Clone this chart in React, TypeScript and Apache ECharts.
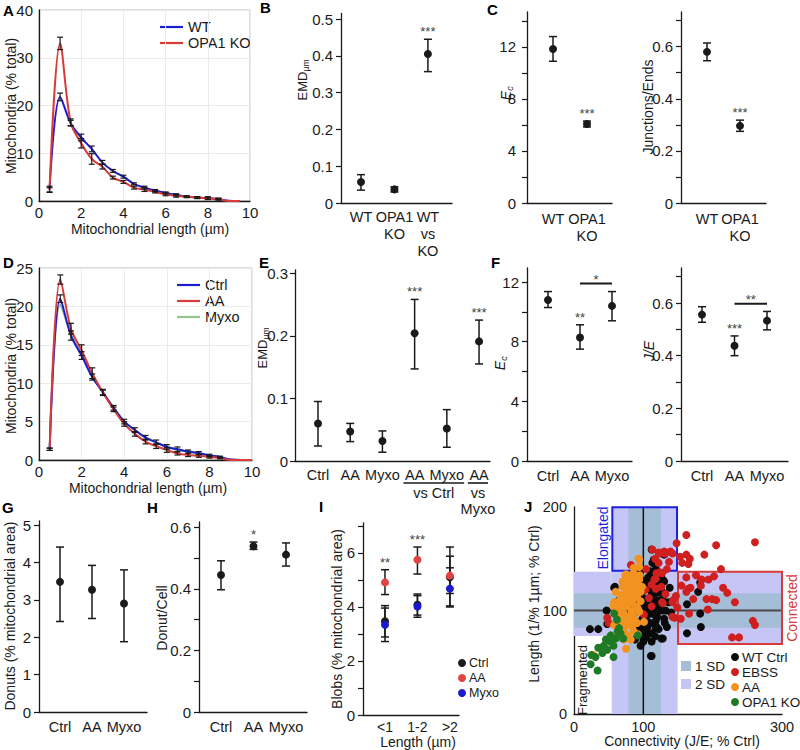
import React, { useEffect, useRef } from "react";
import * as echarts from "echarts";

const FONT = '"Liberation Sans", Arial, Helvetica, sans-serif';
const INK = "#1a1a1a";
const BLUE = "#1c1cd0";
const RED = "#d93a3a";
const GREEN = "#95c28f";
const ORANGE = "#f29320";
const DKGREEN = "#1f7a25";
const LAV = "#c6c6f6";
const STEEL = "#a6bdd8";
const DOTRED = "#e04444";
const DOTBLUE = "#1a1acc";
const TICKFS = 15;

// ---------- Panel A : length distribution WT vs OPA1 KO
const binsA = [0.5, 1, 1.5, 2, 2.5, 3, 3.5, 4, 4.5, 5, 5.5, 6, 6.5, 7, 7.5, 8, 8.5, 9, 9.5];
const wtA = [2.5, 21.8, 16.3, 13.3, 10.9, 8.1, 6.3, 5.1, 3.6, 2.8, 2.2, 1.7, 1.3, 0.9, 0.75, 0.6, 0.4, 0.05, 0];
const wtAErr = [0.6, 0.8, 0.6, 0.7, 0.6, 0.4, 0.3, 0.3, 0.2, 0.3, 0.2, 0.2, 0.2, 0.15, 0.15, 0.2, 0.15];
const koA = [2.3, 33, 16.5, 12.1, 8.8, 7.2, 4.9, 4.0, 2.8, 2.4, 1.9, 1.4, 1.1, 0.9, 0.7, 0.6, 0.4, 0, 0];
const koAErr = [0.5, 1.3, 0.7, 1.0, 1.1, 0.5, 0.3, 0.3, 0.3, 0.4, 0.2, 0.3, 0.3, 0.2, 0.2, 0.3, 0.2];

// ---------- Panel B : EMD
const bCats = ["WT", "OPA1\nKO", "WT\nvs\nKO"];
const bMean = [0.057, 0.037, 0.405];
const bLow = [0.035, 0.030, 0.357];
const bHigh = [0.077, 0.044, 0.445];
const bStars = ["", "", "***"];

// ---------- Panel C : Ec and Junctions/Ends
const cCats = ["WT", "OPA1\nKO"];
const cEcMean = [11.85, 6.08];
const cEcLow = [10.9, 5.85];
const cEcHigh = [12.8, 6.3];
const cEcStars = ["", "***"];
const cJeMean = [0.58, 0.296];
const cJeLow = [0.546, 0.275];
const cJeHigh = [0.614, 0.318];
const cJeStars = ["", "***"];

// ---------- Panel D : length distribution Ctrl / AA / Myxo
const binsD = [0.5, 1, 1.5, 2, 2.5, 3, 3.5, 4, 4.5, 5, 5.5, 6, 6.5, 7, 7.5, 8, 8.5, 9, 9.5, 10];
const ctrlD = [1.4, 21, 16.2, 13.6, 10.8, 8.8, 6.8, 5.0, 3.9, 2.9, 2.3, 1.7, 1.4, 1.1, 0.9, 0.6, 0.4, 0.05, 0, 0];
const ctrlDErr = [0.15, 0.5, 0.6, 0.5, 0.4, 0.3, 0.3, 0.3, 0.3, 0.3, 0.3, 0.3, 0.3, 0.2, 0.2, 0.15, 0.1];
const aaD = [1.4, 23.5, 17.1, 14.3, 11.3, 8.8, 6.6, 4.7, 3.4, 2.4, 1.8, 1.3, 0.85, 0.65, 0.55, 0.4, 0.25, 0, 0, 0];
const aaDErr = [0.15, 0.6, 0.7, 0.7, 0.7, 0.4, 0.3, 0.3, 0.3, 0.3, 0.3, 0.3, 0.2, 0.2, 0.2, 0.15, 0.1];
const myxoD = [1.4, 20.2, 16.4, 13.9, 11.1, 8.8, 6.9, 5.1, 3.9, 3.0, 2.3, 1.7, 1.3, 1.1, 0.8, 0.6, 0.4, 0.05, 0, 0];

// ---------- Panel E : EMD
const eCats = ["Ctrl", "AA", "Myxo", "AA", "Myxo", "AA"];
const eMean = [0.060, 0.047, 0.032, 0.204, 0.052, 0.191];
const eLow = [0.024, 0.031, 0.014, 0.147, 0.022, 0.155];
const eHigh = [0.095, 0.060, 0.048, 0.258, 0.082, 0.225];
const eStars = ["", "", "", "***", "", "***"];
const eGroupFrom = [4, 6];
const eGroupTo = [5, 6];
const eGroupLabels = ["vs Ctrl", "vs\nMyxo"];

// ---------- Panel F : Ec and J/E
const fCats = ["Ctrl", "AA", "Myxo"];
const fEcMean = [10.8, 8.28, 10.4];
const fEcLow = [10.29, 7.5, 9.4];
const fEcHigh = [11.36, 9.13, 11.36];
const fEcStars = ["", "**", ""];
const fEcBracket = [2, 3, 11.9];
const fEcBracketLabel = "*";
const fJeMean = [0.556, 0.438, 0.533];
const fJeLow = [0.527, 0.40, 0.498];
const fJeHigh = [0.586, 0.475, 0.568];
const fJeStars = ["", "***", ""];
const fJeBracket = [2, 3, 0.597];
const fJeBracketLabel = "**";

// ---------- Panel G : Donuts
const gCats = ["Ctrl", "AA", "Myxo"];
const gMean = [3.48, 3.27, 2.9];
const gLow = [2.42, 2.5, 1.88];
const gHigh = [4.41, 3.92, 3.8];

// ---------- Panel H : Donut/Cell
const hMean = [0.445, 0.538, 0.511];
const hLow = [0.397, 0.528, 0.474];
const hHigh = [0.491, 0.552, 0.549];
const hStars = ["", "*", ""];

// ---------- Panel I : Blobs
const iCats = ["<1", "1-2", ">2"];
const iCtrlMean = [3.47, 4.08, 5.1];
const iCtrlLow = [2.89, 3.7, 4.5];
const iCtrlHigh = [4.05, 4.48, 5.88];
const iAAMean = [4.91, 5.75, 5.16];
const iAALow = [4.46, 5.22, 4.04];
const iAAHigh = [5.38, 6.22, 6.22];
const iAAStars = ["**", "***", ""];
const iMyxoMean = [3.34, 4.02, 4.68];
const iMyxoLow = [2.72, 3.62, 4.0];
const iMyxoHigh = [3.96, 4.42, 5.45];

// ---------- Panel J : morphology map
const jSd2Regions = [[54.3, 0, 149.5, 200], [0, 75.4, 54.3, 137.5], [149.5, 67.6, 300, 137.5]];
const jSd1Regions = [[78.4, 0, 125.5, 200], [0, 83.4, 300, 116.6]];
const jElongatedBox = [55.3, 138.5, 148.6, 199.7];
const jConnectedBox = [150, 67.6, 300, 137.5];
const jRefLines = [[100, 0, 100, 200], [0, 100, 300, 100]];

const jWtCtrl = [
  [115, 149], [113, 146], [96, 139], [107, 132], [110, 128], [119, 128], [130, 128], [102, 120], [112, 118], [119, 117],
  [129, 117], [115, 112], [124, 110], [111, 107], [103, 104], [115, 102], [127, 100], [94, 100], [110, 97], [120, 94],
  [99, 92], [91, 89], [106, 88], [99, 83], [91, 84], [103, 80], [118, 83], [112, 70], [126, 73], [112, 56],
  [59, 123], [65, 110], [47, 100], [35, 82], [72, 107], [82, 100], [131, 155], [182, 127], [179, 118], [163, 106],
  [182, 97], [183, 84], [110, 133], [122, 130], [129, 129], [114, 120], [131, 116], [128, 110], [117, 105], [122, 100],
  [131, 88], [119, 84], [117, 75], [128, 73], [58, 122], [23, 82], [48, 87], [112, 159], [130, 154], [111, 56],
  [163, 78], [100, 112], [106, 110], [112, 114], [120, 106], [108, 100], [116, 96], [124, 104], [104, 92], [110, 88],
  [118, 90], [98, 80], [106, 84], [112, 78], [122, 82], [100, 70], [104, 74], [96, 66], [118, 124], [124, 118],
  [108, 122], [102, 128], [110, 138], [118, 140], [126, 132], [96, 124], [132, 100], [136, 108], [130, 92],
  [88, 72], [94, 76], [86, 96], [100, 104], [92, 110], [138, 122], [140, 98], [134, 84],
];
const jEbss = [
  [162, 173], [261, 166], [205, 163], [148, 165], [113, 159], [122, 156], [139, 157], [142, 155], [153, 152], [162, 154],
  [188, 154], [167, 150], [156, 146], [137, 147], [165, 145], [212, 140], [176, 134], [184, 130], [194, 130], [202, 133],
  [162, 132], [155, 124], [165, 121], [168, 122], [183, 124], [215, 122], [221, 117], [162, 118], [172, 111], [191, 111],
  [199, 111], [205, 110], [232, 108], [149, 103], [166, 97], [193, 101], [145, 93], [154, 92], [258, 90], [261, 86],
  [228, 74], [238, 74], [143, 110], [128, 107], [147, 114], [118, 131], [124, 137], [117, 150], [130, 157], [123, 155],
  [131, 155], [82, 144], [119, 136], [127, 136], [112, 125], [103, 120], [118, 121], [126, 123], [132, 116], [142, 108],
  [127, 108], [142, 94], [81, 108], [77, 104], [48, 93], [50, 88], [101, 96], [108, 112], [116, 130], [104, 140],
  [122, 146], [134, 140], [112, 104],
];
const jAA = [
  [94, 149], [86, 141], [94, 142], [75, 135], [90, 133], [79, 128], [94, 130], [70, 123], [82, 123],
  [91, 125], [87, 118], [75, 117], [96, 118], [67, 115], [79, 113], [91, 113], [72, 110], [84, 109], [96, 109],
  [65, 105], [77, 104], [89, 104], [70, 99], [83, 99], [94, 99], [60, 96], [75, 94], [87, 93], [67, 89],
  [79, 89], [91, 88], [58, 86], [72, 84], [84, 84], [65, 81], [77, 76], [60, 75], [72, 72], [75, 63],
  [101, 89], [98, 123], [87, 130], [57, 104], [28, 57], [55, 68], [47, 72], [74, 134],
  [93, 150], [92, 77], [70, 128], [78, 132], [86, 136], [95, 134], [88, 121], [76, 119], [66, 110],
  [82, 116], [90, 116], [70, 104], [80, 106], [92, 102], [64, 100], [72, 96], [84, 96],
  [68, 88], [76, 92], [88, 90], [62, 92], [80, 86], [72, 80], [86, 80],
  [66, 74], [82, 72], [58, 108], [60, 118], [76, 126],
];
const jOpa1 = [
  [58, 97], [62, 91], [65, 83], [63, 80], [53, 76], [67, 78], [60, 73], [46, 72], [52, 70], [43, 66],
  [57, 66], [35, 64], [48, 62], [41, 59], [31, 55], [57, 55], [24, 48], [34, 42], [92, 76], [71, 73], [25, 57],
];

// ---------- helpers
const range = (a: number, b: number, s: number) => {
  const out: number[] = [];
  for (let i = 0; Math.round((a + i * s) * 1000) / 1000 <= b; i++) out.push(Math.round((a + i * s) * 1000) / 1000);
  return out;
};

function yVal(gridIndex: number, max: number, ticks: number[], labels: number[], margin = 8) {
  return {
    type: "value", gridIndex, min: 0, max,
    axisLine: { show: true, onZero: false, lineStyle: { color: INK, width: 1.3 } },
    axisTick: { show: true, length: 5, customValues: ticks, lineStyle: { color: INK, width: 1.2 } },
    axisLabel: { customValues: labels, fontSize: TICKFS, color: INK, margin, fontFamily: FONT },
    splitLine: { show: false },
  };
}
function catX(gridIndex: number, min: number, max: number, labels: string[], margin = 5, fs = 14.5) {
  return {
    type: "value", gridIndex, min, max,
    axisLine: { show: true, onZero: false, lineStyle: { color: INK, width: 1.3 } },
    axisTick: { show: false },
    splitLine: { show: false },
    axisLabel: {
      customValues: labels.map((_, i) => i + 1),
      formatter: (v: number) => labels[Math.round(v) - 1] ?? "",
      fontSize: fs, color: INK, margin, lineHeight: 17, fontFamily: FONT,
    },
  };
}
function lineAxis(gridIndex: number, max: number, interval: number, isX: boolean) {
  return {
    type: "value", gridIndex, min: 0, max, interval,
    axisLine: { show: true, onZero: false, lineStyle: { color: INK, width: 1.3 } },
    axisTick: { show: false },
    axisLabel: { fontSize: TICKFS, color: INK, margin: isX ? 4 : 6, fontFamily: FONT },
    splitLine: { show: true, lineStyle: { color: "#ebebeb", width: 1 } },
  };
}

function errRender(color: string, cap: number, lw: number, stars?: string[]) {
  return (params: any, api: any) => {
    const x = api.value(0);
    const t = api.coord([x, api.value(2)]);
    const b = api.coord([x, api.value(1)]);
    const st = { stroke: color, lineWidth: lw };
    const children: any[] = [
      { type: "line", shape: { x1: t[0], y1: t[1], x2: b[0], y2: b[1] }, style: st },
      { type: "line", shape: { x1: t[0] - cap, y1: t[1], x2: t[0] + cap, y2: t[1] }, style: st },
      { type: "line", shape: { x1: b[0] - cap, y1: b[1], x2: b[0] + cap, y2: b[1] }, style: st },
    ];
    const s = stars && stars[params.dataIndex];
    if (s) {
      children.push({
        type: "text", x: t[0], y: t[1] - 1,
        style: { text: s, align: "center", verticalAlign: "bottom", fontSize: 13, fill: "#444", fontFamily: FONT },
      });
    }
    return { type: "group", children };
  };
}
function errSeries(xi: number, yi: number, data: number[][], color = INK, cap = 4, lw = 1.5, stars?: string[], z = 3) {
  return {
    type: "custom", xAxisIndex: xi, yAxisIndex: yi, data, z, silent: true,
    encode: { x: 0, y: [1, 2] },
    renderItem: errRender(color, cap, lw, stars),
  };
}
function dotSeries(xi: number, yi: number, means: number[], color = INK, size = 8, z = 4) {
  return {
    type: "scatter", xAxisIndex: xi, yAxisIndex: yi, symbol: "circle", symbolSize: size, z,
    itemStyle: { color, opacity: 1 }, data: means.map((m, i) => [i + 1, m]), silent: true,
  };
}
const ebData = (low: number[], high: number[]) => low.map((l, i) => [i + 1, l, high[i]]);
const lineEb = (bins: number[], mean: number[], err: number[]) => err.map((e, i) => [bins[i], mean[i] - e, mean[i] + e]);

function bracketSeries(xi: number, yi: number, br: number[], label: string) {
  return {
    type: "custom", xAxisIndex: xi, yAxisIndex: yi, data: [br], z: 3, silent: true,
    encode: { x: [0, 1], y: 2 },
    renderItem: (params: any, api: any) => {
      const p1 = api.coord([api.value(0), api.value(2)]);
      const p2 = api.coord([api.value(1), api.value(2)]);
      return {
        type: "group", children: [
          { type: "line", shape: { x1: p1[0], y1: p1[1], x2: p2[0], y2: p2[1] }, style: { stroke: INK, lineWidth: 2 } },
          { type: "text", x: (p1[0] + p2[0]) / 2, y: p1[1] + 2, style: { text: label, align: "center", verticalAlign: "bottom", fontSize: 13, fill: "#444", fontFamily: FONT } },
        ],
      };
    },
  };
}

function rectSeries(xi: number, yi: number, data: number[][], fill: string | null, stroke: string | null, z: number) {
  return {
    type: "custom", xAxisIndex: xi, yAxisIndex: yi, data, z, silent: true,
    encode: { x: [0, 2], y: [1, 3] },
    renderItem: (params: any, api: any) => {
      const a = api.coord([api.value(0), api.value(1)]);
      const b = api.coord([api.value(2), api.value(3)]);
      return {
        type: "rect",
        shape: { x: Math.min(a[0], b[0]), y: Math.min(a[1], b[1]), width: Math.abs(b[0] - a[0]), height: Math.abs(b[1] - a[1]) },
        style: fill ? { fill } : { fill: "none", stroke: stroke, lineWidth: 2 },
      };
    },
  };
}

const txt = (x: number, y: number, text: string, extra: any = {}, rot = 0) => ({
  type: "text", x, y, rotation: rot, silent: true,
  style: { text, fontFamily: FONT, fontSize: 14, fill: INK, align: "center", verticalAlign: "middle", ...extra },
});
const rtxt = (x: number, y: number, text: string, extra: any = {}) => txt(x, y, text, extra, Math.PI / 2);
const letter = (x: number, y: number, t: string) =>
  txt(x, y, t, { fontSize: 15, fontWeight: "bold", align: "left", verticalAlign: "top", fill: "#000" });
function subName(cx: number, cy: number, main: string, sub: string, italic: boolean, ms: number, ss: number, wm: number, ws: number) {
  const left = -(wm + ws) / 2;
  const fs = italic ? "italic" : "normal";
  return {
    type: "group", x: cx, y: cy, rotation: Math.PI / 2, silent: true,
    children: [
      { type: "text", x: left, y: 0, style: { text: main, fontSize: ms, fontStyle: fs, fontFamily: FONT, fill: INK, align: "left", verticalAlign: "middle" } },
      { type: "text", x: left + wm, y: ms * 0.32, style: { text: sub, fontSize: ss, fontStyle: fs, fontFamily: FONT, fill: INK, align: "left", verticalAlign: "middle" } },
    ],
  };
}
const legLine = (x: number, y: number, color: string, label: string) => [
  { type: "line", silent: true, shape: { x1: x, y1: y, x2: x + 23, y2: y }, style: { stroke: color, lineWidth: 2.2 } },
  txt(x + 28, y, label, { align: "left", fontSize: 14.5, lineHeight: 15 }),
];
const legDot = (x: number, y: number, color: string, label: string, fs = 14) => [
  { type: "circle", silent: true, shape: { cx: x, cy: y, r: 4 }, style: { fill: color } },
  txt(x + 7, y, label, { align: "left", fontSize: fs, lineHeight: 13 }),
];
const legBox = (x: number, y: number, color: string, label: string) => [
  { type: "rect", silent: true, shape: { x, y: y - 5, width: 10, height: 10 }, style: { fill: color } },
  txt(x + 14, y, label, { align: "left", fontSize: 13.5, lineHeight: 14 }),
];

function buildOption() {
  const grid = [
    { left: 39, top: 10, width: 211, height: 191, show: true, borderColor: "#b8b8b8", borderWidth: 1 }, // 0 A
    { left: 341, top: 13.5, width: 111, height: 189.5 }, // 1 B
    { left: 527, top: 12, width: 85, height: 191 }, // 2 C left
    { left: 681, top: 12, width: 85, height: 191 }, // 3 C right
    { left: 39, top: 268, width: 213, height: 192, show: true, borderColor: "#b8b8b8", borderWidth: 1 }, // 4 D
    { left: 295, top: 270, width: 195, height: 191 }, // 5 E
    { left: 527, top: 268, width: 105, height: 193 }, // 6 F left
    { left: 681, top: 268, width: 107, height: 193 }, // 7 F right
    { left: 39, top: 521, width: 108, height: 191 }, // 8 G
    { left: 199, top: 522, width: 108, height: 190 }, // 9 H
    { left: 363, top: 523, width: 96, height: 192 }, // 10 I
    { left: 574, top: 507, width: 208, height: 207 }, // 11 J
  ];
  const xAxis = [
    lineAxis(0, 10, 2, true),
    catX(1, 0.403, 3.72, bCats),
    catX(2, 0.235, 2.735, cCats, 7),
    catX(3, 0.212, 2.788, cCats, 7),
    lineAxis(4, 10, 2, true),
    catX(5, 0.286, 6.34, eCats),
    catX(6, 0.344, 3.625, fCats, 6),
    catX(7, 0.354, 3.646, fCats, 6),
    catX(8, 0.344, 3.719, gCats, 6),
    catX(9, 0.323, 3.646, gCats, 6),
    catX(10, 0.323, 3.28, iCats, 3, 14),
    {
      type: "value", gridIndex: 11, min: 0, max: 300,
      axisLine: { show: true, onZero: false, lineStyle: { color: INK, width: 1.3 } },
      axisTick: { show: false }, splitLine: { show: false },
      axisLabel: { customValues: [0, 100, 300], fontSize: 14.5, color: INK, margin: 5, fontFamily: FONT },
    },
  ];
  const yAxis = [
    lineAxis(0, 40, 10, false),
    yVal(1, 0.515, [0, 0.1, 0.2, 0.3, 0.4, 0.5], [0, 0.1, 0.2, 0.3, 0.4, 0.5], 8),
    yVal(2, 14.69, range(0, 14, 2), [0, 4, 8, 12], 11),
    yVal(3, 0.733, range(0, 0.7, 0.1), [0, 0.2, 0.4, 0.6], 8),
    lineAxis(4, 25, 5, false),
    yVal(5, 0.305, [0, 0.1, 0.2, 0.3], [0, 0.1, 0.2, 0.3], 7),
    yVal(6, 12.94, range(0, 12, 2), [0, 4, 8, 12], 8),
    yVal(7, 0.733, range(0, 0.7, 0.1), [0, 0.2, 0.4, 0.6], 8),
    yVal(8, 5.107, range(0, 5, 1), range(0, 5, 1), 8),
    yVal(9, 0.617, range(0, 0.6, 0.1), [0, 0.2, 0.4, 0.6], 8),
    yVal(10, 7.11, range(0, 7, 1), [0, 2, 4, 6], 8),
    {
      type: "value", gridIndex: 11, min: 0, max: 200,
      axisLine: { show: true, onZero: false, lineStyle: { color: INK, width: 1.3 } },
      axisTick: { show: false }, splitLine: { show: false },
      axisLabel: { customValues: [0, 100, 200], fontSize: 14.5, color: INK, margin: 7, fontFamily: FONT },
    },
  ];

  const lineS = (xi: number, bins: number[], vals: number[], color: string, z = 2) => ({
    type: "line", xAxisIndex: xi, yAxisIndex: xi, data: bins.map((b, i) => [b, vals[i]]),
    smooth: 0.35, showSymbol: false, symbol: "none", z, silent: true,
    lineStyle: { color, width: 2 }, itemStyle: { color },
  });
  const jScatter = (pts: number[][], color: string, z: number) => ({
    type: "scatter", xAxisIndex: 11, yAxisIndex: 11, data: pts, symbol: "circle", symbolSize: 8, z, silent: true,
    itemStyle: { color, opacity: 1 },
  });

  const series: any[] = [
    // A
    lineS(0, binsA, wtA, BLUE),
    lineS(0, binsA, koA, RED),
    errSeries(0, 0, lineEb(binsA, wtA, wtAErr), INK, 3, 1.2),
    errSeries(0, 0, lineEb(binsA, koA, koAErr), INK, 3, 1.2),
    // B
    errSeries(1, 1, ebData(bLow, bHigh), INK, 4, 1.5, bStars),
    dotSeries(1, 1, bMean),
    // C
    errSeries(2, 2, ebData(cEcLow, cEcHigh), INK, 4, 1.5, cEcStars),
    dotSeries(2, 2, cEcMean),
    errSeries(3, 3, ebData(cJeLow, cJeHigh), INK, 4, 1.5, cJeStars),
    dotSeries(3, 3, cJeMean),
    // D
    lineS(4, binsD, myxoD, GREEN),
    lineS(4, binsD, ctrlD, BLUE),
    lineS(4, binsD, aaD, RED),
    errSeries(4, 4, lineEb(binsD, ctrlD, ctrlDErr), INK, 3, 1.2),
    errSeries(4, 4, lineEb(binsD, aaD, aaDErr), INK, 3, 1.2),
    // E
    errSeries(5, 5, ebData(eLow, eHigh), INK, 4, 1.5, eStars),
    dotSeries(5, 5, eMean),
    {
      type: "custom", xAxisIndex: 5, yAxisIndex: 5, silent: true, z: 3,
      data: eGroupFrom.map((f, i) => [f, eGroupTo[i]]),
      encode: { x: [0, 1] },
      renderItem: (params: any, api: any) => {
        const i = params.dataIndex;
        const p1 = api.coord([api.value(0), 0]);
        const p2 = api.coord([api.value(1), 0]);
        const padL = eCats[eGroupFrom[i] - 1].length * 4.6 + 2;
        const padR = eCats[eGroupTo[i] - 1].length * 4.2 + 0.5;
        const y = p1[1] + 22;
        const x1 = p1[0] - padL, x2 = p2[0] + padR;
        return {
          type: "group", children: [
            { type: "line", shape: { x1, y1: y, x2, y2: y }, style: { stroke: INK, lineWidth: 1.6 } },
            { type: "text", x: (x1 + x2) / 2, y: y + 2, style: { text: eGroupLabels[i], align: "center", verticalAlign: "top", fontSize: 14.5, lineHeight: 16, fill: INK, fontFamily: FONT } },
          ],
        };
      },
    },
    // F
    errSeries(6, 6, ebData(fEcLow, fEcHigh), INK, 4, 1.5, fEcStars),
    dotSeries(6, 6, fEcMean),
    bracketSeries(6, 6, fEcBracket, fEcBracketLabel),
    errSeries(7, 7, ebData(fJeLow, fJeHigh), INK, 4, 1.5, fJeStars),
    dotSeries(7, 7, fJeMean),
    bracketSeries(7, 7, fJeBracket, fJeBracketLabel),
    // G
    errSeries(8, 8, ebData(gLow, gHigh)),
    dotSeries(8, 8, gMean),
    // H
    errSeries(9, 9, ebData(hLow, hHigh), INK, 4, 1.5, hStars),
    dotSeries(9, 9, hMean),
    // I
    errSeries(10, 10, ebData(iCtrlLow, iCtrlHigh)),
    errSeries(10, 10, ebData(iAALow, iAAHigh), INK, 4, 1.5, iAAStars),
    errSeries(10, 10, ebData(iMyxoLow, iMyxoHigh)),
    dotSeries(10, 10, iCtrlMean, INK, 8, 4),
    dotSeries(10, 10, iAAMean, DOTRED, 8, 5),
    dotSeries(10, 10, iMyxoMean, DOTBLUE, 8, 6),
    // J
    rectSeries(11, 11, jSd2Regions, LAV, null, 1),
    rectSeries(11, 11, jSd1Regions, STEEL, null, 2),
    {
      type: "custom", xAxisIndex: 11, yAxisIndex: 11, data: jRefLines, z: 3, silent: true,
      encode: { x: [0, 2], y: [1, 3] },
      renderItem: (params: any, api: any) => {
        const a = api.coord([api.value(0), api.value(1)]);
        const b = api.coord([api.value(2), api.value(3)]);
        const vertical = params.dataIndex === 0;
        return {
          type: "line", shape: { x1: a[0], y1: a[1], x2: b[0], y2: b[1] },
          style: { stroke: vertical ? "#111" : "#4a4a4a", lineWidth: vertical ? 1.5 : 2.2 },
        };
      },
    },
    rectSeries(11, 11, [jElongatedBox], null, "#1f1fe0", 4),
    rectSeries(11, 11, [jConnectedBox], null, "#d63a3a", 4),
    jScatter(jWtCtrl, "#0a0a0a", 5),
    jScatter(jEbss, "#cf1f1f", 6),
    jScatter(jAA, ORANGE, 7),
    jScatter(jOpa1, DKGREEN, 8),
  ];

  const graphic: any[] = [
    letter(3, 3, "A"), letter(260, 0, "B"), letter(487, 2, "C"),
    letter(3, 255, "D"), letter(259, 255, "E"), letter(491, 255, "F"),
    letter(2, 500, "G"), letter(147, 500, "H"), letter(319, 499, "I"), letter(524, 499, "J"),
    // axis names
    rtxt(11, 106, "Mitochondria (% total)"),
    txt(150, 229, "Mitochondrial length (µm)"),
    subName(302, 80, "EMD", "µm", false, 13, 8.5, 29, 12),
    subName(506, 93, "E", "c", true, 14, 9, 9.5, 5),
    rtxt(648, 107, "Junctions/Ends"),
    rtxt(11, 366, "Mitochondria (% total)"),
    txt(148, 488, "Mitochondrial length (µm)"),
    subName(262, 348, "EMD", "µm", false, 13, 8.5, 29, 12),
    subName(500, 363, "E", "c", true, 14, 9, 9.5, 5),
    rtxt(649, 351, "J/E", { fontStyle: "italic" }),
    rtxt(10, 616, "Donuts (% mitochondrial area)"),
    rtxt(162, 618, "Donut/Cell"),
    rtxt(337, 619, "Blobs (% mitochondrial area)"),
    txt(418, 742, "Length (µm)"),
    rtxt(534, 604, "Length (1/% 1µm; % Ctrl)"),
    txt(682, 741, "Connectivity (J/E; % Ctrl)"),
    // legends
    ...legLine(160, 27, BLUE, "WT"),
    ...legLine(160, 43, RED, "OPA1 KO"),
    ...legLine(177, 285, BLUE, "Ctrl"),
    ...legLine(177, 301, RED, "AA"),
    ...legLine(177, 317, GREEN, "Myxo"),
    ...legDot(462, 663, INK, "Ctrl", 12.5),
    ...legDot(462, 678, DOTRED, "AA", 12.5),
    ...legDot(462, 693, DOTBLUE, "Myxo", 12.5),
    ...legBox(681, 666, STEEL, "1 SD"),
    ...legBox(681, 684, LAV, "2 SD"),
    ...legDot(735, 657, "#0a0a0a", "WT Ctrl", 13.5),
    ...legDot(735, 672, "#cf1f1f", "EBSS", 13.5),
    ...legDot(735, 687, ORANGE, "AA", 13.5),
    ...legDot(735, 702, DKGREEN, "OPA1 KO", 13.5),
    // J annotations
    rtxt(603, 538, "Elongated", { fill: "#1f1fe0" }),
    rtxt(792, 608, "Connected", { fill: "#d63a3a" }),
    rtxt(582, 680, "Fragmented", { fontSize: 13 }),
  ];

  return {
    animation: false,
    backgroundColor: "#ffffff",
    textStyle: { fontFamily: FONT },
    grid, xAxis, yAxis, series, graphic,
  };
}

export default function App() {
  const ref = useRef<HTMLDivElement | null>(null);
  useEffect(() => {
    if (!ref.current) return;
    const chart = echarts.init(ref.current, undefined, { renderer: "svg" });
    chart.setOption(buildOption() as any);
    return () => chart.dispose();
  }, []);
  return (
    <div
      ref={ref}
      style={{ position: "absolute", left: 0, top: 0, width: 800, height: 750, background: "#fff" }}
    />
  );
}
